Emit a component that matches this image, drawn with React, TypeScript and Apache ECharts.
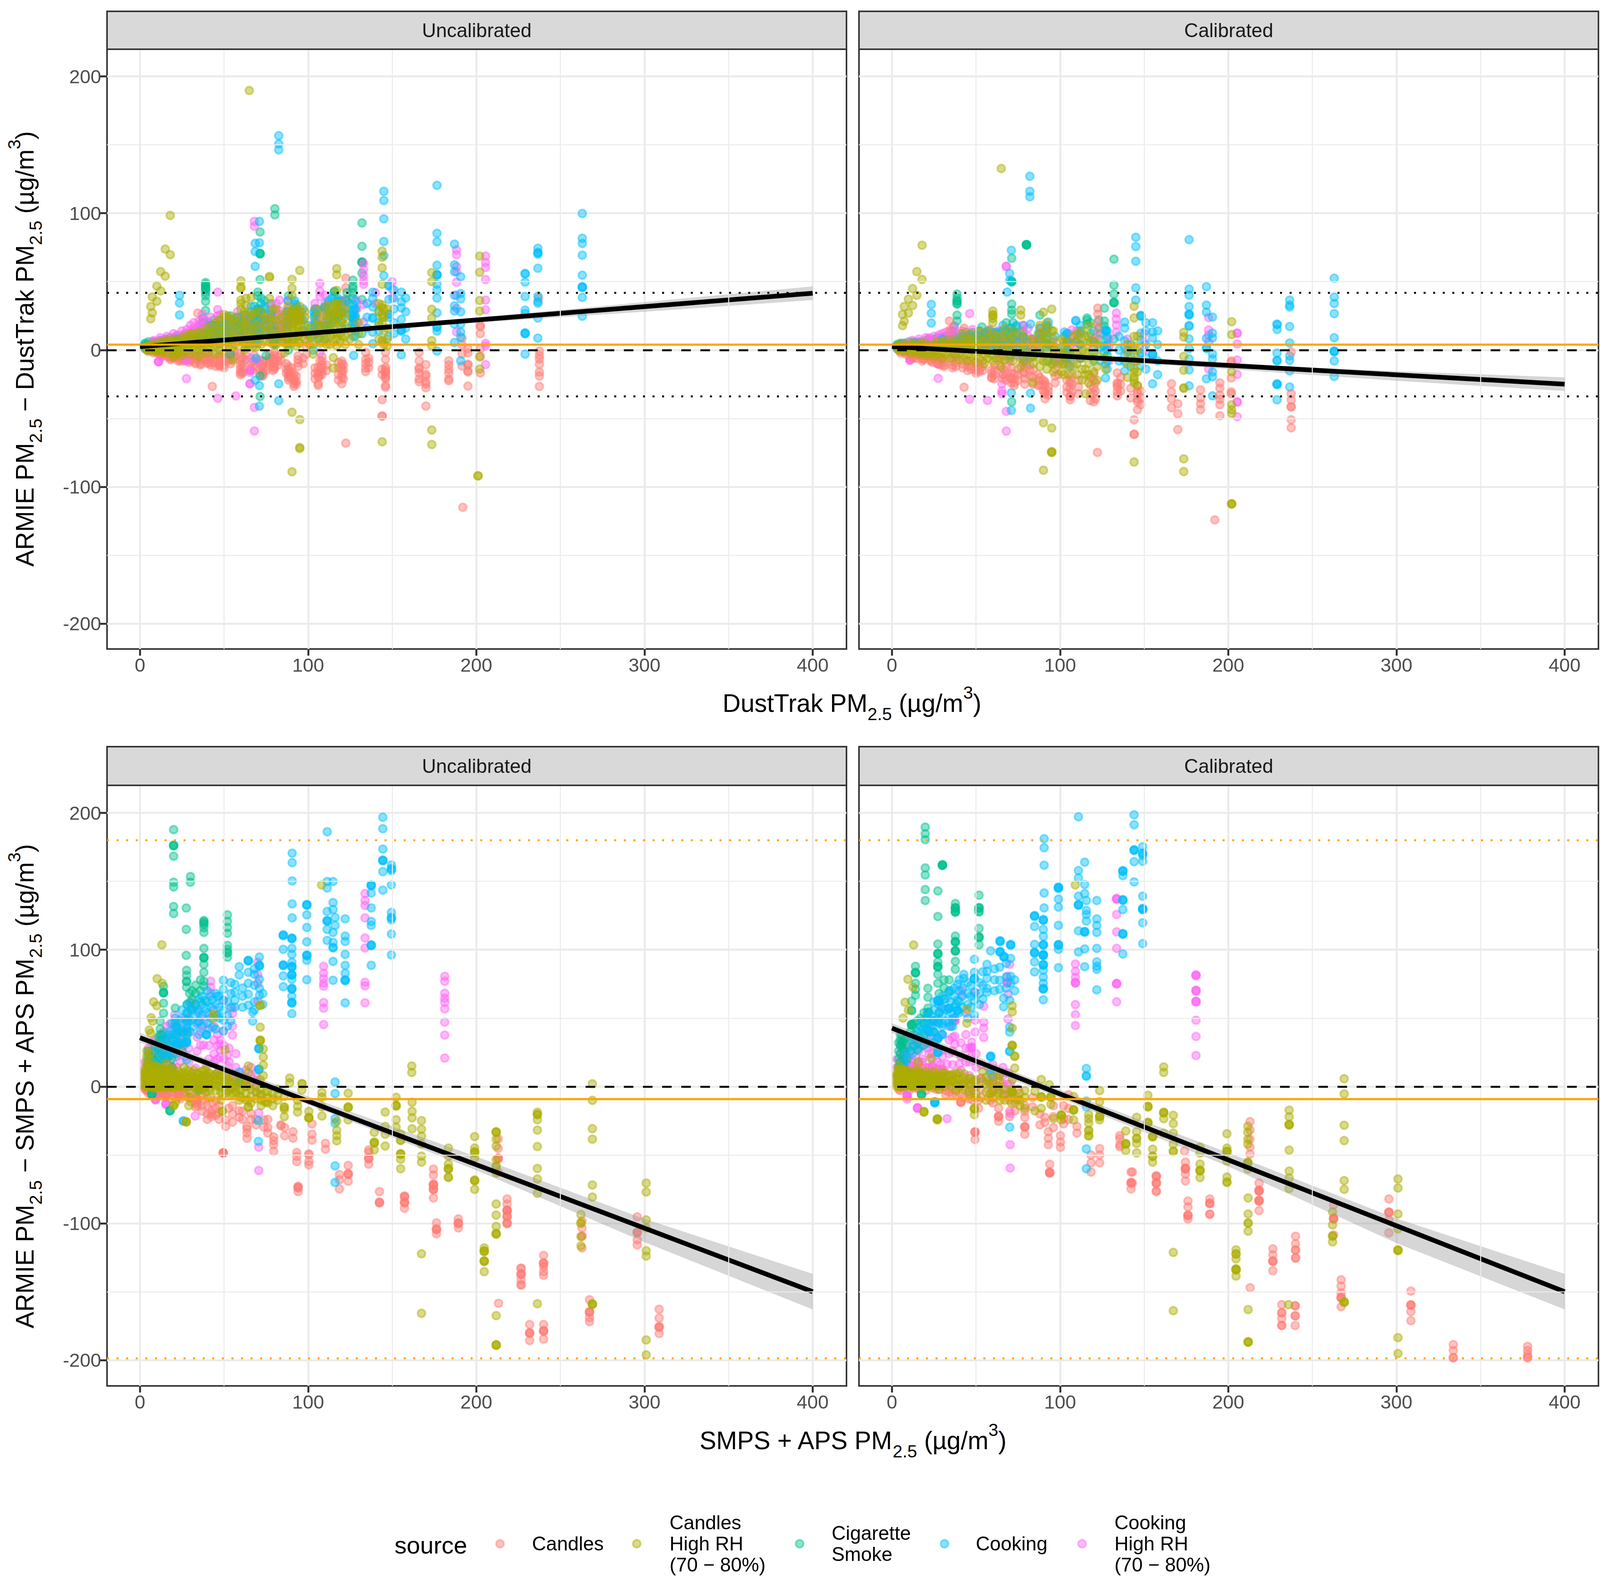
import React, { useEffect, useRef } from "react";
import * as echarts from "echarts";

type Col = number[];

const sourceNames = ["Candles", "Candles\nHigh RH\n(70 − 80%)", "Cigarette\nSmoke", "Cooking", "Cooking\nHigh RH\n(70 − 80%)"];
const sourceColors = ["#FF7D75", "#ABAD00", "#00C08D", "#00BFFF", "#FF66F5"];
const xTickValues = [0, 100, 200, 300, 400];
const yTickValues = [-200, -100, 0, 100, 200];
const xMinorValues = [50, 150, 250, 350];
const yMinorValues = [-150, -50, 50, 150];
const stripNames = ["Uncalibrated", "Calibrated"];

// DustTrak, uncalibrated: [x, y, y, ...]
const dtRawCandles: Col[] = [
  [5,0,-1],[8,-1,0,-2],[11,-2,-1,-3],[14,-3,-1,-4],[17,-2,-4,-5],[20,-3,-5,-6],[22.7,-4,-6,-8],[26,-3,-5,-7,-8],[30,-3,-6,-8],[33,-4,-6,-7,-9,-10],
  [34.3,27],[38,5,20,-3,-7],[40.3,-2,-5,-7,-9,-10],[43,-26.6,18,15,12],[47.3,-3,-5,-8,-10,-11,-12],[52,-2,-5,-8],
  [56,-1,-4,-6],[59.7,-2,-5,-8,-11,-14,-16.4,-18],[63,12,8,-3,-7],[68,-4,-8,-12],[73,-8.1,-11,-13,-16.4,-18,-19],[77,-3,-6,-9],[80,-1.7,-4,-7.5,-10,-12.6,-14],
  [84,-3,-8],[88.3,-12,-14,-16,-18.3,-20,-22],[91.6,-17.7,-20,-22.2,-25,-26.6],[94,-4.3,-7,-9.4,-12],[99,6,2,-3],
  [106,-12.6,-16.4,-18,-20,-24.7,-26],[108.2,-4.9,-8,-10.7,-13,-15.8,-18],[120,-8.1,-10,-12.6,-15,-17.7,-20,-24.7],[122.4,-68.1,52.5,45.5,37.2,36,27.4],
  [134.2,-1.7,-6.8,-10,-13.2,-15.8],[144,-36.4,-48.3,-48.3,6,-14,-18],[146,-1.7,-6.8,-12.6,-14,-15.8,-16,-18.3,-20.9,-20,-26,-27.3],
  [166,-1.7,-7.9,-13,-14,-16.8,-21.2,-23.2],[170,-10.7,-17.7,-19,-23.2,-25,-27.6,-41],[183.6,-7.9,-11,-14.2,-16.8,-21.2,-22.5],
  [191.5,8.7,3.6,-2.8,-11.7],[192,-115],[195,1,-2.1,-10.4,-11,-15.3,-16,-26.4],[202.4,18,17,11.9,1,-4.7,-16.8],[237.5,-0.8,-4,-6.6,-10.4,-16.1,-19,-26.6],[237,38],
  [13,-2,-4,-5],[18,-3,-5,-6,-7],[24,-2,-4,-6,-8],[29,-5,-7,-9],[36,-3,-6,-8,-10,-11],[42,-4,-7,-9,-11],[45,-6,-9,-12],[50,-5,-8,-11,-13],[54,-4,-7,-10],[61,-6,-10,-13,-16,-17],[66,-9,-13,-15],[71,-7,-10,-14,-17],[75,-8,-12,-15],[79,-6,-9,-12,-15],[82,-5,-8,-11],[87,-10,-14,-17],[90,-13,-16,-19,-21],[93,-19,-23,-25],[97,-6,-10],[104,-13,-17,-21],[107,-8,-14,-19],[111,-11,-15],[118,-9,-13,-18,-22],[121,-11,-15,-21],[136,-6,-9,-13]
];
const dtRawOlive: Col[] = [
  [65,189.7],[18,98.4,69.7],[15,73.8,54],[12.3,57.3,43.2],[10,46.7,35.6],[7.3,38.8,27.2],[6.4,31.8,22.8],
  [4,0,1,2,3],[7,0,1,3,4],[10,-1,1,3,5],[13,-2,0,2,4,6],[16,-2,1,3,6,7],[20,-3,-5,0,3,6,8],[25,-4,-1,3,7,9],[30,-3,1,5,10,12],[35,-5,0,4,9,13],
  [40,-2,2,7,12,16],[45,-3,3,8,14,20],[50,-2,4,9,15,24,26],[55,-7.5,2,6,12,19,23],
  [60,50.6,46.1,45,36.5,34,30,22,16,8],[63,37.8,32.7,25,19,10,4],[66,38.5,26,14,6],[69,28,18,10,2],[77,53.8,53,37.8,24,16,6],[81,30,22,12,4],
  [86,26,20,12,5,-2],[90.4,51.6,45.1,39.7,-45.5,-89,28,24,20,16,10,5],[93,30,27,22,16,10,3],[95,58.2,-50.9,-71.3,-72,32,28,24,22,18,12,5],
  [103,-3,4,10],[107,18,14,9,5],[111,32,25,18,10,4],[115,-13.2,-5.6,26,20,12,6],[117,59.5,55,43.6,34,32,28,24,12,8,3],[120,27,20,10],
  [144,72.3,67.8,60.1,48,33,31,26,23.8,20,7.2,-67.1],[147,30,16,8,3],[173.5,56.6,50,29.8,23.4,6.8,3,-58.5,-69.1],[202,68.7,56.8,36.2,28.5,-5,-13.9],[201,-92,-92],
  [5,0,1,2,2,3],[8,0,1,2,3],[11,0,2,3,4],[14,0,1,3,5],[18,0,2,4,6],[22,-2,1,4,7],[27,-1,2,5,8,10],[32,0,3,6,9,12],[37,0,3,6,10,13],[42,1,5,9,13,17],[47,0,4,9,14,18,22],[52,2,6,11,16,21,25],[57,4,9,14,19,24],[62,0,4,12,16,20,28],[67,2,8,14,20,26],[72,4,10,16,22,28],[75,6,12,18,24],[79,4,10,16,22,30],[84,6,10,14,18,24],[88,4,8,14,20,26,32],[91,8,14,20,26,30],[94,6,10,16,22,26],[98,8,12,18,24,28],[101,4,10,16],[105,12,18,24,30],[109,6,12,20,26],[113,4,10,16,24,28,32],[116,14,20,28,34],[119,6,12,18,26,34],[122,4,10,18,24,30],[125,8,14],[130,20,12,4],[142,8,18,28,34],[145,4,14,24,30]
];
const dtRawGreen: Col[] = [
  [3,1,2,3,4,5],[5,0,1,2,4,6],[7,1,2,3,5],[10,1,3,5,6],[13,2,4,6],[16,3,5,7],[20,2,4,6,8],[25,4,6,9],[30,5,8,11],[34,7,10,13],
  [37.5,23.1,20,15.5,12,8],[39,49.3,48,47,46,45,44,42,39.7,35.6,28.9],[45,12,18,10],[50,6,12,18],[53.8,25,18.7,14,8,-3],[60,14,8],[65,20,12,4],
  [70,42.3,39.7,30,29,28,26,24,20,18,10,5],[71.4,86.3,70.7,70.5,70.2,51.5,-34,-19],[75,22,14,-4],[80.2,103.3,98.8,18,5,4],[88.3,39.7,24.4,24,6,0],
  [109.5,31.4,30,18],[115.6,42.9,42.5,39.1,26,22],[126.6,51,46.8,45,41.7,37.8,23.8,23,19.3],[132,92.9,75.8,64.4,64.2,64,56.3,36.9,12],
  [8,2,4,6],[12,3,5,7],[15,3,6,8],[18,4,6,9],[22,5,8,10],[27,6,9,12],[32,7,10,14],[36,8,12,15,18],[41,9,13,17,20],[44,8,14,18,22],[48,10,14,18,22],[52,8,12,16,20,24],[56,10,16,20],[60,10,14,20,24],[64,12,18,24],[68,14,20,26,32],[72,16,22,28,34,38],[74,20,26,32],[78,24,28,34],[83,10,16,22],[87,14,20,28],[92,22,30],[100,12,18],[105,20,26,30],[112,18,26,34],[118,24,30,36],[123,30,36,42],[128,30,25,18,14]
];
const dtRawCooking: Col[] = [
  [82.5,156.7,150.7,146.3,-24.7,-37],[23.5,40,34.4,25.6],[68.5,78,72,61.2,-22],[71,94,78.4,-26,-41],[145,116,109.3,95.9,79.3,69,54.4],
  [148,47.4,46.8,37,26.3,25.8,23.8,10],[127,32.7,28.9,26,21.2,9.8,-4],[138.4,42.3,37.8,31.4,23.8,23,13,4.6],[155.4,42.3,35.3,30.8,22.4,14.8,14.5,13.6,-3.6],
  [103.5,27.6,24.4,17.4,11],[103,0],[110,31.4,8,18],[114,38,20],[117.5,38,35,27],[93,31.4,33],[59,21,20,14],[69,21,20.5,16,12,9,6,-6],[46,15,10,6],[52,16,11],[40,8,12],[30,5,9],[22,4,8],[14,3,5],
  [176.6,120.4,85.3,79.2,62,55.3,55,54.6,48,44,38,27.2,17,16.6,13.8,-0.8],[187,77.4,62.3,57.2,40,32.3,28.5,18.9,5.5],[190.7,53.6,41.3,37.4,27.9,18.9,13.2,9.4,-7.9],
  [229,56,55.6,49.6,39.1,29.1,26.6,12.6,12.2,11.8,-3],[236.6,74.4,71.3,71,70,59.8,39.4,35.5,34.2,23.4,8.7],[263,99.8,81.7,77.9,69.3,54.7,46.4,46,45.6,38.5,24.7],
  [38,8,12],[42,10,14,18],[47,9,13,16],[50,12,16,20],[55,12,18,22],[58,16,20,24],[62,14,20,26],[66,16,22,28,32],[70,12,18,24,30],[74,14,22,30,36],[78,10,18,26],[80,6,14],[88,18,28,36],[92,24,30,34,36],[97,14,22,30],[104,14,20,26,30],[106,8,12,16],[112,14,22,30,36],[120,16,22,28,36],[124,16,26,34],[128,10,16,24,30,36],[135,16,24,34],[142,14,20,28],[151,12,20,30,38,44],[158,8,16,28,38]
];
const dtRawPink: Col[] = [
  [8,4,6,7],[12,4,7,9],[16,5,8,10],[20,6,9,12],[25,7,11,14],[30,10,14,18],[35,14,18,21],[40,16,21],[11,-8.5,-8.5,-8.5],[27.6,-20.9,-7.5,-7.5],
  [46.2,42.3,29.5,25,-35.3],[57,-33.6,15,8],[62,22,16,10],[65.4,-16.4,-24.7,-24.7,-15],[68,94,90.4,-42,-59.2,5],[83,36.5,28.9,26,18,12],[85,24,18,14,8],[92,28,22],
  [107,48.7,42.9,39.1,23.8,-2],[133,63.3,58.9,54.4,50.6,48,33.3,20.6],[188.2,73.2,69.7,61,57.2,49.6,40,30.4,13.2],[205.5,68.7,64,60.4,51.5,36.5,29.4,4.9,3,-10.7],
  [22,5,8,11],[28,8,12,15],[32,12,16,20],[37,14,18,22,26],[42,14,18,24],[48,12,16,20,26],[54,10,16,22],[58,12,18,24,28],[63,10,14,20,26],[66,12,18,24,-6],[70,10,16,20,-8],[74,12,18,24],[78,8,14,20,26,32],[81,14,20,28,34],[88,18,24,30,36],[96,28,22,14],[104,14,22,30,34],[110,20,28,34,40],[120,36,30],[129,20,30,36],[140,42,34],[150,50,44,38]
];

// DustTrak, calibrated
const dtCalCandles: Col[] = [
  [5,0,-1,-2],[8,-1,-2,-3],[11,-3,-2,-5],[15,-4,-2,-6],[19,-3,-6,-7],[23,-5,-7,-8],[27,-5,-8,-10],[31,-6,-9,-11,-12],[34.2,21.2,14.6],[38,-5,-9,-12],[42.9,-27.2,16],
  [47,-8,-12,-14],[52,-10,-14,-16],[59.3,-14.5,-17,-20.4,-20],[64,-6,-12],[68,-12,-18,-22],[72.7,-17.5,-21,-24,-26],[78,-10,-16],[84,-14,-20,-25],[88,-25.5,-20],[91,-23.3,-25,-30.6,-32,-35.7],
  [99,-4,-10,-18],[106,-21.8,-24,-27.7,-33.5,-34,-36.4],[120,-17.5,-22,-27.7,-32,-37.9],[122.2,-74.9],[122.4,30.6,26.3,20.4,16,10.2],[134,-16.7,-24,-25,-27,-30.6,-33.5],
  [144,-61.6,-61.6,-51],[146,-43.7,-37.9,-36,-32,-30,-26.2],[166.2,-24.7,-30.6,-35.7,-42.2],[170,-39.3,-46.6,-58.2],[183.5,-29.1,-35,-39.3,-43.7],
  [192,-124.2],[195,-24,-28,-33,-36,-40,-48],[201.8,-8,-9,-20.4,-30.6,-32],[237.4,-1.4,-32,-36.4,-41.5,-41.5,-51,-56.9],
  [13,-3,-5,-6],[18,-4,-6,-8],[24,-4,-6,-9],[29,-6,-8,-11],[36,-5,-8,-11,-13],[42,-7,-10,-13],[45,-8,-12,-15],[50,-9,-12,-15,-17],[54,-8,-12,-15],[61,-11,-15,-18,-21],[66,-14,-18,-21],[71,-13,-17,-21,-24],[75,-14,-18,-22],[79,-13,-17,-21,-25],[82,-11,-15,-19],[87,-18,-22,-26],[90,-22,-26,-30],[93,-27,-30,-33],[97,-14,-19,-24],[104,-22,-27,-31],[107,-18,-25,-31],[111,-22,-27,-32],[118,-20,-26,-32,-37],[121,-24,-30,-36],[136,-20,-25,-30],[148,-30,-35,-40],[142,-28,-35]
];
const dtCalOlive: Col[] = [
  [65,132.7],[17.9,76.6,51.6],[14.8,57.3,40],[12.3,44.9,32.5],[9.8,37.2,27],[7.3,31.8,21],[6.3,26,17.8],
  [4,0,1,3,4],[8,-1,1,2,4],[12,-2,0,3,5],[16,-3,-1,2,4],[20,-4,-1,2,5],[25,-5,-2,1,4],[30,-6,-2,2,6],[35,-6,-2,2,5],[40,-7,-3,1,5],[45,-8,-3,2,6,8],[50,-9,-4,1,6],[55,-10,-4,2,7],
  [60,28.5,26,25,23,20,12,6,-4,-8],[65,10,2,-6,-12],[70,8,0,-6],[76.6,29.2,25.5,12,4,-6,-12],[83.7,-23.7,8,-4],[90.1,27.7,12,6,-8,-53.2,-87.9],[95,29.9,14,4,-10,-74.3,-74.6,-75,-57],
  [102,6,-3,-10,-18],[108,10,-2,-12],[115,10,-2,-14,-32,-18],[120,6,-6,-16],[144,32,23.4,10,3,-3,-8,-14,-16,-20,-22,-24,-81.9],
  [173.5,12.9,9.5,-4.6,-14.8,-27.7,-28,-79.6,-88.9],[202,20.7,11.3,-16,-40,-43.7,-46.3,-112.5,-112.5,-112.5],
  [5,0,1,2,3],[9,0,1,2,3],[13,-1,1,2,4],[18,-2,0,3,5],[22,-3,0,3],[27,-3,0,3,6],[32,-3,1,4,7],[37,-3,1,5,8],[42,-4,0,4,8,12],[47,-5,0,4,8,12],[52,-6,-1,4,8,13],[57,-6,-2,4,9,14],[62,-6,-1,5,10],[67,-7,-1,5,11,16],[72,-8,-2,4,10,14],[79,-8,-2,3,9],[84,-10,-5,0,6],[88,-12,-6,0,6,12,18],[92,-14,-8,-2,4,10,16,20],[96,-16,-10,-4,2,8,14],[101,-16,-10,-4,2,8],[105,-18,-12,-6,0,6],[110,-18,-10,-2,6,12],[113,-22,-14,-6,0,8,14],[117,-24,-18,-10,-2,4,10,18],[122,-22,-12,-4,4],[127,-14,-6],[140,-20,-10,-2,4],[146,-26,-16,-8,0,10]
];
const dtCalGreen: Col[] = [
  [3,1,2,3,4],[5,1,2,4,5],[7,2,3,5],[10,2,4,6],[13,2,4,6],[16,3,5,6],[20,3,5,7],[25,3,5,8],[30,4,7,9],[34,3,6,10],[37,17.5,10,6],
  [38.7,40.9,38,36,35.6,34,33.5,25.5,21.2],[45,6,10],[53.5,16.8,10.2,4],[62,12,6],[70.8,16,8,-4],[71.2,67.1,50.3,50,49.7,33.6,29.2,26.3,-37.9],[80,77,77,77,76.8,76.8],
  [88,25.5,12],[116,23.4,19,22],[126.3,30.6,21.2,17.5,3,-1.4],[132,66.4,47.4,40.9,35,34.7,34.4,8],
  [8,2,4],[12,2,5],[15,3,5],[18,3,6],[22,3,6,8],[27,3,6,9],[32,4,7,10],[36,4,8,11,14],[41,5,8,12],[44,4,9,13],[48,5,8,13],[52,3,7,11,14],[56,4,9,13],[60,3,8,13],[64,2,7,13],[68,1,8,14,20],[72,2,8,14,20],[74,5,11,17],[78,8,14,18],[83,-5,2,8],[87,-2,6,12],[92,5,12],[100,-8,-2],[105,-2,6,12],[112,-6,4,14],[118,6,12,20],[123,8,16,22],[128,10,4,-4]
];
const dtCalCooking: Col[] = [
  [23.4,33.3,26.9,19.7],[68.5,42.3,13],[70,56,51],[71,72.9,-31.3,-44.1],[82.4,19,-31.6,-42.5],[82,116,127,112],[93,20.4,16.8,4,-8],[102.6,13.2,10,2,-6],[109.3,21.6,21.2,6],
  [145,82.4,75.6,64.9,45.5,36.5],[148,25.3,25,24.7,12.4,7.3,-2,-2.4,-11.6],[155,20,13.2,8.8,-2.9,-3.2,-3.5,-24.7],[138.4,20.4,16,6.6,1.5,-4.3,-8.7,-15.3],[127,14.6,14.2,13.8,-10.2,-20.4],
  [176.7,80.7,44.5,40.1,31.8,26.3,26,25.6,17.8,17.5,8.1,1,-6.5,-14.5,-26.2],[187,46.3,32.8,27.7,8.5,1.5,1.2,-21],[190.6,24.1,12.4,8.8,-2.9,-6.5,-16,-19.6,-33.5],
  [229,19,18.5,15,-2.2,-7.5,-8,-24.7,-25,-25.3,-36.4],[236.5,36.5,32.8,31.4,17.2,5.1,-4.3,-7.5,-15.3,-27],[263,52.5,38.7,34,26.6,9,-0.7,-1,-1.4,-8,-19.4],
  [30,5,8],[46,7,11],[55,8,12],[62,9,4],[14,3,5],
  [38,2,6],[42,3,7,10],[47,2,6,9],[50,4,8,11],[55,2,8,12],[58,4,9,14],[62,1,7,13],[66,2,8,14,18],[70,-4,4,10,16],[74,-2,6,12,18],[78,-6,2,10],[80,-10,-2,6],[88,-2,8,16],[92,2,8,14,18],[97,-8,2,10],[104,-6,0,6,12],[106,-12,-6,-2],[112,-6,4,12,18],[120,-8,-2,6,14],[124,-8,2,12],[128,-14,-8,0,8,14],[135,-8,0,10],[142,-12,-4,4],[151,-14,-6,4,14,20],[158,-18,-8,4,14]
];
const dtCalPink: Col[] = [
  [8,3,5],[12,4,7],[16,5,8],[20,6,9],[25,7,10],[30,8,12],[35,10,14],[10.7,-7.3,-7.3,-7.3],[27.5,-20.7,-10.2,-10.2],[46.2,26.6,-36,7],[56.8,-36.9,8],[63,7,1],[65.4,-24.8,-32,-30],
  [68,61.3,61,-44.9,-59.3],[84,7.3,7,2],[107,14.6,10,5],[133.4,27,22.6,18.3,13.2],[188.3,23.7,14.6,11,5.9,-14],[205.3,12.4,12.2,4.4,-7.3,-17.9,-37.9,-38.1,-48.8],
  [22,4,7,9],[28,5,9,11],[32,6,10,13],[37,6,10,14,17],[42,6,10,14],[48,2,7,11,15],[54,0,6,12],[58,1,6,12,15],[63,-2,3,9,14],[66,-4,2,8,-18],[70,-8,0,6,-20],[74,-4,3,9],[78,-8,-2,6,12,18],[81,-4,3,10,16],[88,-2,4,10,16],[96,6,0,-8],[104,-10,-2,6,12],[110,-6,2,8,14],[120,8,2],[129,-8,2,8],[140,8,0],[150,12,6,0]
];

// SMPS + APS, uncalibrated
const smRawCandles: Col[] = [
  [4,-1,-3],[7,-2,-4],[10,-1,-3,-5],[13.3,-2.5,-5,-6],[17,-3,-5],[22.7,-5.4,-5,-6,-8],[27,-4,-7],[34,-10.1,-10,-9,-12,-14],[42.5,-22,-17.8,-12,-20],[49.5,-48.5,-48.5,-48.5,-48.5],[51,-24.4,-29.2],[52.7,-15.9],
  [59,-17.8,-22.5],[63.6,-29.2,-31,-34,-37.8],[66,-19.7,-24],[73.7,-24.4,-29.7],[79.5,-36.8,-39.6,-42.5,-47.3],[83.8,-28.7,-28],[91,-33,-37.8],[93.2,-48.2,-51.1,-54.9],[94,-73,-73.4,-73.8,-74.2,-76.8],
  [100.4,-49.2,-50,-54.9,-57.3],[102.3,-27.3,-34.9,-39.2],[110.3,-41.6,-45.8],[118.6,-64.4,-68.2,-74.9],[123.8,-57.7,-63.5,-64,-64.5,-69.2],[136,-46.3,-48,-52,-52.5,-53,-56.8],[142.4,-76.8,-84.4,-84.8,-85.2],
  [157.3,-80,-80.4,-80.8,-84.4,-84.8,-85.2,-89],[174.5,-60.4,-64.7,-71.3,-71.6,-72,-72.4,-74.9,-75.2,-75.5,-81.5],[176.3,-99.7,-104.1,-104.4,-104.7,-107.7],[189.3,-96.8,-99.7,-100,-100.3,-103.4],
  [213,-38.2,-45.3,-52.3,-52.6,-52.9,-62.5],[213.2,-158.5],[218.3,-82.2,-85.9,-90.2,-90.5,-90.8,-91,-94.6,-95,-95.4,-99.7,-100,-100.3],[226.6,-132.8,-133,-136.9,-137.2,-137.5,-141.3,-144.9,-145.2],
  [231.7,-174,-179.9,-180.2,-180.5,-185.7],[240,-123.5,-128.9,-129.2,-129.5,-131.8,-135.4,-138,-174,-178.4,-178.7,-179,-184.7],[262.8,-98.3,-103.4,-109.2,-109.5,-118],[267.3,-155.9,-164.6,-164.9,-165.2,-169,-171.9],
  [295.7,-95.3,-106.3,-106.6,-106.9,-112.1,-115.8],[308.7,-162.9,-169.3,-175.5,-175.8,-176.1,-180.6],
  [3,-1,-2],[5,-2,-3,-5],[8,-2,-4,-6],[11,-3,-5,-7],[15,-3,-6,-8],[19,-4,-6,-9],[24,-4,-7,-9],[30,-5,-8,-11],[33,-8,-12,-15],[37,-6,-10,-14,-18],[40,-8,-14,-20,-24],[45,-10,-16,-21],[47,-14,-19,-24],[55,-14,-20,-26],[61,-18,-24],[69,-24,-28],[76,-24,-30,-34],[86,-30,-36]
];
const smRawOlive: Col[] = [
  [13,103.6],[10.2,78.8],[13.2,75.5],[8.1,61.9],[10,59],[6.6,50.3],[7.5,47.8],[5.5,41.2],[6.4,39],
  [4,0,2,4,6,8,10,12,15,18,22,26],[6,0,1,3,5,7,9,11,13,16,19,24],[8,-1,1,3,5,7,9,11,14],[10,0,2,4,6,8,10,12,15],[12,-1,1,3,5,7,9,12],[14,0,2,4,6,8,11,14],[16,-1,1,3,5,8,10,13,17],[18,0,2,4,6,9,12],[20,-14,-14,-1,1,3,6,9,13],
  [23,0,2,5,8,11],[26,-1,1,4,7,10,14],[27.5,-25.8,-25.8,-25.8],[29,-14,-8,-3,2,6,11],[32,0,3,7,12],[35,-3,0,5,9],[38,-2,1,4,8,12],[41,-1,2,6,10],[43.7,52.9,50,8,3],[47,0,4,8,12],[49,-18.2,-18,-6,2,7],
  [52,-3,2,5,9],[55,-1,-5,2,7],[59,-7,-10,-2,3],[64.4,15,9.9,5,0,-10.1,-14.9,-15.2],[71.5,59.5,59.2,43.4,34,33.7,33.4,5,-2,-6],[73.3,27.4,21.6,15.7,8],[74.5,-11,-11.4,-4],[89,6.2,2.6],[96.3,2.2,-2.5],[96.4,1.9],[50.5,26.7],
  [85.8,-7.3,-14.9,-15.2,-16.8,-22],[93.7,-10.1,-14.4,-18.7],[100.4,-18.2,-22.5,-22.8,-23.1],[108,147.4],[108.2,-4.4,-7.8,-14.9,-21.6],[117,-25.4,-32,-35.9,-39.7],[123.8,-4.9,-14.9,-15.2,-15.5,-24.4],[139.3,-33.5,-40.6,-41,-41.4,-46.3],[145.8,-18.7,-29.2,-34.9,-43.5],
  [152.3,-7.9,-13.7,-14,-14.3,-24.3,-29.7],[155,-34.8,-39.2,-39.5,-49.1,-49.4,-49.7,-53.1,-60.1],[161.6,15,10.3],[161.8,-11.5,-18.1,-22.9,-30.9],[167.4,-24.9,-31.2,-36.3,-42.1,-50.9,-55.3,-122.3,-165.8],
  [183.4,-45,-50.9,-56.7,-59.9,-60.2,-60.5,-66.2,-66.5],[199,-36.6,-45,-47.7,-48,-48.3,-52.3,-68.4,-68.7,-69,-75.2],[204.7,-118,-120.1,-120.4,-120.7,-127.4,-127.7,-128,-135.4],
  [211.8,-33,-33.3,-33.6,-38.5,-43.6,-53.5,-58.2,-58.5,-63.3,-85.9,-94,-102.3,-107.4,-107.7,-108,-167.5,-188.7,-189,-189.3],[236.3,-18.8,-20.3,-20.6,-24.3,-31.9,-43.9,-59.9,-67.6,-78.1,-158.8],
  [262.2,-93.6,-99.7,-100,-109.9,-116.5],[269,2,-10.1,-30.8,-38.5,-72,-80.8,-158.8,-159.1,-159.4],[301,-70.6,-77.1,-97.5,-103.4,-120.1,-124,-185.3,-196.2],
  [3,0,2,4,6,8,10,12],[5,0,2,4,6,8,10,12,14],[7,0,2,4,6,8,10,12,14],[9,0,2,4,6,8,10,12,14],[11,0,2,4,6,8,10,12],[13,1,3,5,7,9,11,13],[15,0,2,4,6,8,10,12],[17,1,3,5,7,9,11],[19,0,2,4,6,8,10],[21,1,3,5,7,9,-12],[24,0,2,4,6,9],[28,0,3,6,9,12],[31,1,4,7,10],[34,-4,0,3,6,10],[37,-2,2,5,8,11],[39,-4,0,4,8,12],[42,-2,2,5,9,-8],[45,-3,1,5,9],[48,-4,0,4,8,-10],[51,-5,-1,3,7],[54,-6,-2,3],[57,-4,0,4],[60,-8,-3,2],[63,-10,-5,0,4],[66,-12,-7,-2],[69,-9,-4,0],[72,-14,-10,-6],[76,-12,-8,-4],[79,-14,-9,-5],[82,-10,-6,-2]
];
const smRawGreen: Col[] = [
  [20,187.8,176.5,176.2,175.9,168.4,149.4,145.9,131.6,126.5,34],[30,153.5,149.4],[27.5,130.5,114.9,95.9],[38,121.4,120.5,119.5,118.5,116,112.7,101,94.5,94.2,93.9,89.3,83.5,76.9,73.3],
  [52,125.5,120.7,116.3,112,103.2,100.3,98,97.7,94.5],[27.7,85,81.3,77,76.7,72.6,34],[29.5,68.2,61.6],[14,73.3,68.9,68.6,68.3,60.9,53.6],[12,47.8,42,38,34],[21,57.3,47],[38.6,63.1],[6.4,22.3,16.4],[15,20.1],[7,-5.4,-5.7,-6],[17.8,-17.3,-17.6,-17.9],
  [5,10,14,18,22,26],[7,8,12,16,20],[9,12,18,24,30],[11,16,22,28,36],[13,20,26,32,38],[15,12,26,34],[17,22,30,38],[19,8,14,20,28],[22,24,30,38,44],[25,26,32,40],[28,40,48,54,60],[31,56,64,70],[33,60,68,74],[36,62,70,78]
];
const smRawCooking: Col[] = [
  [144.4,196.9,188.5,173.6,165.6,165.3,165,157.1,143.6],[149.5,162,159.3,159,157.9,147.4,127.3,123.6,123.3,121.9,111.5,96.2],[111.3,186.3,149.9,145.2,128,121.4,121.1,120.8,114.9,106.8],[114.8,149.9,134.5,129.4,112.7,105.4,101.7,101.4,91.5,77.7],[116,123.6,117.8,3.3,-5.1,-23.5,-26.8,-58,-70.1],
  [122,122.6,110,106.1,96.6,88.6,82.8,78,77.7,77.4,61.2],[90.5,170.6,163.7,150.3,133.5,123.3],[99.2,133.1,132.8,132.5,125.5,116.3,105.8,96.2,95.9,95.6,92.3,78.1],[137.5,147.4,147.1,146.8,141.5,130.6,120.7,117.8,103.6,103.3,103,88.6],
  [85.2,110.9,110.6,110.3,100.3,89,88.7,88.4,80.9,73],[90.3,108.6,108.3,108,101,96.6,90.8,87.9,87.6,87.3,82,81.7,81.4,78.4,71.8,71.5,71.2,66,61.6,61.3,61,53.2],[59,87.6,81.6,10.6,3.3,3,2.7],[64.4,92.3,92,91.7,83.5,75.5,67.5,59.5],[71,94.7,88.6,88.3,88,78.4,71.8,66.7],[67,54.4,47.8],[56.4,74.8,68.9,63.1,58],
  [49.6,77.7,71.1,63.1,55.8,48.5,40.5],[43,63.1,43.4],[39.5,57.3,38.3,38,37.7],[34.8,54.4,47.1,-1.8,-2.1,-2.4],[27.7,48.5,42.7,32.5,32.2,31.9,19.4],[70.7,28.1,27.8,27.5,12.8,12.5,12.2],[70.4,-24.9,-40.1],[25.8,-25.1,-25.4],[22,42,32],[20,30,24],[16,28,22],[46,66,52],
  [6,15,20],[10,18,26],[14,24,30,36],[17,26,34,40],[19,30,38,46],[21,28,36,44,50],[23,32,40,48],[25,34,42,50,56],[28,38,46,54,60],[30,40,48,56],[32,44,50,58],[35,38,48,56,64],[37,44,52,60,66],[40,46,54,62,70],[42,50,58,66],[45,42,52,60,68],[47,50,58,66],[52,44,52,62],[54,48,58,68,76],[61,58,66,72],[68,56,62,74,82,86],[73,60,68]
];
const smRawPink: Col[] = [
  [133.8,141.1,136,132.4,123.3,108.6,101.3,76.2,73.6,61.2],[109.2,87.9,82.8,79.1,75.5,73.3,61.4,57.3,45.3],[181.2,80.6,77,68.2,64.6,61.6,56.8,47.1,37.6,20.8],[70,90.8,82,75.5,62.4,3.3],[42,77,72.6,68.2],[49.6,63.1,40.5],
  [55,57.3,53.6,44.2,37.6,9.2],[30.7,61.6,57.3],[20.6,52.2,44.2,38.3],[37.8,45.6,30.3],[47.8,33.9,31,26.6,21.5],[52,23,15],[39.6,15,8.4],[33,13.5,6.2],[13.5,33.9,25.2],[5.8,16.4,9.2],[19,14.5,14.2,13.9],[17,4.8,4.5,4.2],[9.2,-9.2,-9.5,-9.8],[15.4,-12.5,-12.8,-13.1],[32.8,-21.6],[70.6,-19.2,-44.4,-61.4],[26,40,30],
  [3,6,10,14,18],[5,12,18,24,28],[7,14,20,26,32],[9,10,18,26,34],[11,16,24,32],[14,14,22,30,40],[16,20,28,36,44],[18,18,26,36,46],[22,14,22,32,42],[24,18,28,38,48],[27,22,32,42,50],[29,18,28,40,50],[34,26,36,46,56],[36,30,40,50],[41,20,30,42,52],[44,18,24,34,44,56],[46,10,20,30,38],[50,20,30],[53,8,18,28],[57,4,14,24],[60,6,10],[63,0,6,12],[66,2,8,14],[69,-4,4,10]
];

// SMPS + APS, calibrated
const smCalCandles: Col[] = [
  [4,14,8,3,-2],[7,15,10,4,-1],[10,16,8,2,-3],[13,14,6,-1],[16,16,10,3,-2],[20,14,8,2,-3],[24,15,9,3,-1],[28,12,6,-2],[32,10,4,-3,-6],[36,4,-2,-6],[41,-5.4,-11.1,-11.4,-11.7,2],[46,2,-4,-9],[49.4,-33,-33.3,-33.6,-38.7],[51.5,-10.1,-15.9],[58.7,-5.4,-10.1,1],
  [63.4,-15.9,-21.6,-21.9,-22.2,-25.4],[73.2,-17.8,-12],[79,-22.5,-29.2,-29.5,-29.8,-34.9],[83.6,-14.9,-8],[90.9,-22.5,-26.3],[93,-33,-37.8,-42.5],[93.8,-56.8,-62.5,-62.8,-63.1,-63.4],[100.2,-35.9,-40.6,-44.4],[102.1,-14,-23.5,-27.3],[110,-29.2,-34],[118.4,-50.1,-55.8,-62.5],[123.5,-45.4,-50.1,-55.8],
  [135.5,-35.9,-42.5,-44,-38],[142.2,-62.5,-70.1,-70.4,-70.7,-74.9],[143,-62.5,-70.6],[157.2,-65.5,-65.8,-70.6,-70.9,-76.4,-65.4,-70.1,-76.8],[174,-47.2],[174.5,-55.3,-59.6,-59.9,-60.2,-60.5,-64,-69],[176,-83.7,-88,-93.9,-94.2,-94.5,-96.8],[189,-82.2,-85.1,-85.4,-85.7,-93.2,-93.5],
  [212.9,-25.7,-31.9,-38.5,-44.3,-49.4],[213,-147.1],[218.3,-70.6,-75.7,-76,-76.3,-76.6,-83,-83.3,-83.6,-83.9,-90.7],[226.5,-118.7,-123,-127.4,-127.7,-128,-134.7],[240,-109.5,-115,-119.4,-119.7,-125.2,-125.5],
  [231.8,-159.5,-165.3,-165.6,-169.7,-174.5,-174.8],[239.8,-160.2,-160.5,-167.5,-167.8,-174.8],[262.6,-86.6,-96.1,-96.4,-96.7,-97,-108.5],[267.1,-141.3,-146,-150.8,-154.1,-154.4,-154.7,-161],[295.5,-82.2,-91.7,-92,-92.3,-97.5,-107],[308.6,-149.6,-159.5,-159.8,-160.1,-164.6,-171.2],[333.8,-188.7,-193,-198.1,-198.4],[378,-190,-193,-196,-198,-198.3],
  [5,12,6,0,-3],[9,13,7,1],[12,15,9,3],[15,14,8,-1],[18,13,7,2],[22,14,8,1],[26,13,6,-2],[30,13,7,0],[34,8,2,-4],[38,8,1,-6],[43,7,0,-8],[48,4,-3,-10],[53,6,-2,-8],[60,4,-4,-12],[66,2,-6],[70,-4,-10,-18,-22],[75,-2,-8],[79,-14,-18],[88,-20,-28],[96,-14,-22,-30],[105,-6,-16,-24]
];
const smCalOlive: Col[] = [
  [12.9,103.5],[9.5,78.4],[12.5,72.6],[7.8,61.6],[9.8,55.8],[6.6,50],[4,0,2,4,6,8,10,12,15],[6,1,3,5,7,9,11,13],[8,0,2,4,6,8,10,12],[10,1,3,5,7,9,11],[12,0,2,4,6,8,10],[14,2,4,6,9,12],[15.5,17.9,10,5],[17,1,3,6,9],
  [19,-18.2,-18.5,-18.8,2,7],[21,0,4,8],[23,20.8,6,2],[25,3,7,11],[27,-23.5,-23.8,-24.1,-24.4,5,1],[30,2,6,10],[33,3,8],[36,4,9],[40,0,5,10],[43,9.2,3],[44.5,56.5,46.3],[47,1,6],[49,-15.9,-16.2,-16.5,-20.6,4],[54,10.6,4],[58,2,-5],[64,8.4,8.1,3.3,-4],[64.4,-10.1],
  [71.5,59,54.6,42.7,30.3,30,29.7,-3.5,-3.8,-4.1,-4.4,5],[73,22.3,22,13.5],[74.3,-9.7],[85,-3.5,-17.8],[88.8,5.1,-7.3,-7.6,-7.9,-15.9],[93.5,1.3],[94.5,-7.3,-7.6,-7.9,-13],[96,-23.5],[100.7,-20.6,-20.9,-21.2,-24.4],[108,-7.3,-16.8,-17.1,-17.4,-24.4],[109,147.4],[117,-20.6,-23.5,-26.8,-32,-32.3,-35.9,-36.2],[123.5,-3,-11.1,-16.8,-21.6,-21.9,-22.2,-24.4],
  [139,-32.5,-41.6,-41.9,-42.2,-46.8],[145.5,-22.5,-33,-37.8,-38.1,-41.6,-48.5],[152.2,-6.4,-14.4,-14.7,-15,-26.1,-26.4,-26.7],[155,-36.3,-36.6,-36.9,-45.8,-50.9,-51.2,-55.3],[161.6,14.3,10.3,-18.8,-19.1,-19.4,-23.5,-34.1],[167.3,-21,-27.1,-34.1,-42.1,-47.2,-47.5,-121.3,-163.9],
  [183.2,-44.3,-48.7,-56.7,-61.1,-61.4,-61.7,-66.6],[199.2,-34.5,-45,-47.2,-47.5,-47.8,-54.5,-66.2,-69.8,-70.1],[204.6,-119.4,-122.3,-122.6,-126,-133.3,-133.6,-133.9,-134.2,-138.6],[211.6,-29,-33.4,-38.5,-42.1,-55.3,-55.6,-55.9,-60.4],[211.8,-81.5,-93.2,-99.7,-100,-105.8,-163.1,-186.5,-186.8,-187.1],
  [236.2,-17.3,-22.2,-27.6,-27.9,-28.2,-46.5,-61.8,-66.9,-74.6],[235.8,-159.5],[268.9,5.7,-5.4,-28.3,-39.5,-68.8,-75.2,-157.3,-157.6,-157.9],[262,-91.7,-101.2,-109.2,-109.5,-113.6],[300.9,-67.6,-74.2,-93.2,-104.1,-119.4,-119.7,-120,-183.6,-195.2],
  [3,0,2,4,6,8,10],[5,0,2,4,6,8,10,12],[7,1,3,5,7,9,11],[9,2,4,6,8,10],[11,0,2,4,6,8,10],[13,1,3,5,7,9],[16,0,2,4,6,8,11],[18,0,3,6,9],[20,1,3,5,8,11],[22,0,3,6,9],[24,1,4,7],[26,0,3,6,9],[28,-2,2,5,8],[31,0,3,7,10],[35,0,4,8],[38,-3,2,6,10],[42,-2,2,6],[46,-3,2,6,-6],[50,-5,0,5,-8],[56,-4,2,7,-10],[60,-8,-3,2,7],[63,-5,0],[67,-10,-6,-2],[71,-12,-8,-2],[76,-14,-10,-5],[79,-16,-8,-3]
];
const smCalGreen: Col[] = [
  [19.8,189.7,184.8,180.5,159.8,154.7,144,136],[30,162.2,162,161.8,161.6],[27.3,143,124.3,104.2,97.4,97.1,96.8,91,87.9,87.6,87.3,82,75.5,47],[37.7,133.8,130.9,130.6,130.3,128,127.7,127.4,110,106.1,105.8,105.5,99.5,99.2,98.9,91.5,85.7],[38,60.2],
  [51.8,139.9,130.9,130.6,130.3,128,127.7,115.6,109.5,109.2,108.9,103.6],[14,87.9,83.5,83.2,82.9,75.5,71.1,66.7],[21.4,71.8,65.3,57.3,54.4],[20.8,50],[11.7,62.4,55.8,55.5,45.6,45.3,45,44.7],[6,36.9,32.5,32.2,31.9,28],[15,26.7],[7,9.9,9.6,9.3,9,8.7],[17.6,-5.4,-5.7,-6],
  [4,14,20,26,32],[5,18,24,30,34,38],[7,14,20,26,34],[9,20,28,36],[11,26,34,40],[13,30,38,46],[15,32,40,48],[17,36,44,50],[19,30,38,46,54],[22,40,46,54],[25,32,40,48],[28,54,62,68],[31,64,72,78],[34,70,78]
];
const smCalCooking: Col[] = [
  [110.9,197.2,157.9,152.5,139.2,133.1,132.8,132.5,113.8,98.4],[144,198.7,191.4,173.2,172.9,172.6,164.4,149.6],[149.1,175.4,170.7,170.4,168.8,164.7,139.2,130.2,129.9,129.6,129.3,119.7,104.5],[90.5,181.2,174.6,161.8,141.5,130.6],[99,145.8,145.5,145.2,144.9,137,131.2,117.8,103.9,103.6,103.3,100.3,86.9],
  [114.6,164,147.7,141.1,113.4,113.1,112.8,100.6,87.6],[115.6,136,128.7,125.8,121,13.2,8,7.5,-10.6,-14.9,-45.6,-60.1],[121.8,136,122.6,117.8,112.7,101,91.2,87.9,85.7,70.7],[137.3,157.9,157.6,157.3,154.2,136.7,136.4,136.1,129.4,111.9,111.6,111.3,96.9],
  [84.8,125,124.7,124.4,117,103.9,98.1,97.8,97.5,91.1,83.8],[90,122.1,121.8,121.5,114.9,109.8,103.9,103.6,103.3,96.6,96.3,96,95.7,89.3,89,88.7,85,79.9,75.5,71.8,71.5,71.2,63.4],[58.7,99.2,22.3,22,21.7,11.3,8.9],[64.3,106.6,106.3,106,98.8,98.5,98.2],[66.6,95.2,94.9,94.6],[70.6,103.9,103.6,103.3,93.7,80.6,75.5],
  [56.5,89.3,84.2,79.1,71.8,68.9],[64,87.2,77.7,71.1],[66.4,64.6,58.3],[70,63.1,43.4,39.8,25.9,25.6,-29.7],[49,93,83.5,79.1,78.8,78.5,68.9,63.1,52.2],[42.7,82,79.1],[39,74.8,63.1,55.8,55.5,55.2],[33.8,68.9,57.3,57,56.7,47],[27.3,63.1,62.8,62.5,50,35.4,35.1,34.8,25.2,24.9,24.6],[25.5,-11.1,-11.4,-11.7,-12],[20.8,42.7],[14,35.4],[30,52,44,38],[24,48,40],[36,50,44],
  [8,18,24],[12,24,30,36],[16,28,36,42],[18,34,42,48],[21,32,40,48,54],[23,36,44,52],[25,40,48,56,62],[28,46,54,60],[30,38,46,58,66],[32,48,56,64],[35,44,54,62,70],[37,50,58,66,72],[40,54,62,70,78],[42,58,66,72],[45,50,60,68,76],[47,58,66,74],[52,60,68,76],[54,64,74,84],[61,70,78,86],[68,72,80,90],[73,70,78]
];
const smCalPink: Col[] = [
  [133.6,137.5,137.2,136.9,125.8,113.1,101,75.5,75.2,74.9,61.9],[109.1,89.6,84.2,79.9,76.2,75.9,75.6,59.9,52.5,44.6],[180.8,81.6,81.3,81,70.4,70.1,69.8,62.4,62.1,61.8,48.5,36.6,22.7],[70,89.3],[68.6,80.6,76.2,75.9,75.6],[69,67.5,49.3],[54.6,58.7,47.1,42.7,35.8],[41.5,70.4,66.7],[29.7,57.3],[37.4,48.5,48.2,47.9,36.8,31],[49.5,68.9,48.5,39.8],[47.5,32.5,28.8,28.5,28.2,22.3],[20.8,41.2,28.1],[7,28.1,22.3,22,21.7,16.4],[40,16.4],[70.6,1.9],[32.6,16.4],[14.3,34],[9,-6.3,-6.6,-6.9,-7.2,-9.2],[15.2,-15.4,-15.7,-16],[32.8,-23.5],[70.3,-19.7,-42.5,-59.6],[5.3,-0.6],[48,-1.6],[12,12,20],[18,10,18],[24,14,24],[30,12,22],
  [3,8,14,20],[5,12,18,24,30],[7,14,20,26],[9,16,22,30],[11,10,18,26],[14,14,22,30],[16,18,26,34],[18,10,20,30],[22,14,24,34,40],[24,10,20,30,44],[27,18,28,36,48],[29,16,26,38],[34,24,34,44],[36,16,26,36,48],[41,12,22,32],[44,18,28,38,54],[46,8,18,28],[50,4,14,24],[53,6,16],[57,4,14],[60,2,8,16],[63,-2,6],[66,0,8,14],[69,-6,2,10]
];

// Fitted lines: x and y of each end, then confidence band
const fitX = [0, 400];
const fitDtRaw = [2.4, 41.5];
const fitDtCal = [2.5, -25];
const fitSmRaw = [35.7, -150];
const fitSmCal = [42.7, -150];
const bandX = [0, 50, 100, 200, 300, 400];
const bandDtRawHi = [3.9, 8.1, 13.2, 23.6, 35.0, 46.5];
const bandDtRawLo = [0.9, 5.5, 11.2, 20.0, 28.0, 36.5];
const bandDtCalHi = [4.0, 0.3, -3.5, -10.0, -15.5, -20];
const bandDtCalLo = [1.0, -1.9, -5.5, -14.0, -22.5, -30];
const bandSmRawHi = [39.2, 15.6, -7.3, -51.2, -96.8, -137];
const bandSmRawLo = [32.2, 10.2, -13.3, -61.2, -113.8, -163];
const bandSmCalHi = [46.2, 22.0, -2.4, -48.4, -96.5, -137];
const bandSmCalLo = [39.2, 15.0, -8.4, -58.4, -114.5, -163];

// Reference lines
const zeroLine = 0;
const dtBias = 4;
const dtLimits = [41.9, -33.9];
const smBias = -9.2;
const smLimits = [180, -198.7];

const panelData = [
  { cols: [dtRawCandles, dtRawOlive, dtRawGreen, dtRawCooking, dtRawPink], order: [0, 2, 4, 3, 1], fit: fitDtRaw, hi: bandDtRawHi, lo: bandDtRawLo, bias: dtBias, limits: dtLimits, limitColor: "#000000" },
  { cols: [dtCalCandles, dtCalOlive, dtCalGreen, dtCalCooking, dtCalPink], order: [2, 4, 3, 0, 1], fit: fitDtCal, hi: bandDtCalHi, lo: bandDtCalLo, bias: dtBias, limits: dtLimits, limitColor: "#000000" },
  { cols: [smRawCandles, smRawOlive, smRawGreen, smRawCooking, smRawPink], order: [0, 4, 2, 3, 1], fit: fitSmRaw, hi: bandSmRawHi, lo: bandSmRawLo, bias: smBias, limits: smLimits, limitColor: "#FFA500" },
  { cols: [smCalCandles, smCalOlive, smCalGreen, smCalCooking, smCalPink], order: [0, 4, 2, 3, 1], fit: fitSmCal, hi: bandSmCalHi, lo: bandSmCalLo, bias: smBias, limits: smLimits, limitColor: "#FFA500" },
];

const FONT = "'Liberation Sans', Arial, sans-serif";
const panelBoxes = [
  { left: 274, top: 126, width: 1893, height: 1535, stripTop: 29 },
  { left: 2199, top: 126, width: 1893, height: 1535, stripTop: 29 },
  { left: 274, top: 2010, width: 1893, height: 1537, stripTop: 1911 },
  { left: 2199, top: 2010, width: 1893, height: 1537, stripTop: 1911 },
];
const xRange = [-19.6, 420.1];
const yRangeTop = [-218.6, 219.9];
const yRangeBottom = [-218.9, 220.2];

function alpha(hex: string, a: number) {
  const n = parseInt(hex.slice(1), 16);
  return `rgba(${(n >> 16) & 255},${(n >> 8) & 255},${n & 255},${a})`;
}
const flat = (cols: Col[]) => cols.flatMap(([x, ...ys]) => ys.map((y) => [x, y]));

const titleRich = {
  t: { fontSize: 64, fontFamily: FONT, color: "#000", lineHeight: 100 },
  s: { fontSize: 45, fontFamily: FONT, color: "#000", verticalAlign: "bottom", lineHeight: 64 },
  u: { fontSize: 45, fontFamily: FONT, color: "#000", verticalAlign: "top", lineHeight: 56 },
};
function axisTitle(text: string, x: number, y: number, rotation = 0) {
  return { type: "text", x, y, rotation, z: 20, style: { text, rich: titleRich, align: "center", verticalAlign: "middle" } };
}

function buildOption() {
  const grid = panelBoxes.map((b) => ({ left: b.left, top: b.top, width: b.width, height: b.height, show: true, backgroundColor: "#fff", borderColor: "#333333", borderWidth: 4 }));
  const tickStyle = { color: "#333333", width: 5 };
  const xAxis = panelBoxes.map((_, i) => ({
    type: "value", gridIndex: i, min: xRange[0], max: xRange[1],
    axisLine: { show: false, onZero: false },
    axisTick: { show: true, length: 17, lineStyle: tickStyle, customValues: xTickValues },
    axisLabel: { show: true, customValues: xTickValues, color: "#4D4D4D", fontSize: 49, fontFamily: FONT, margin: 16, hideOverlap: false },
    splitLine: { show: true, lineStyle: { color: "#EBEBEB", width: 5 } },
  }));
  const yAxis = panelBoxes.map((_, i) => {
    const r = i < 2 ? yRangeTop : yRangeBottom;
    const isLeft = i % 2 === 0;
    return {
      type: "value", gridIndex: i, min: r[0], max: r[1],
      axisLine: { show: false, onZero: false },
      axisTick: { show: isLeft, length: 17, lineStyle: tickStyle, customValues: yTickValues },
      axisLabel: { show: isLeft, customValues: yTickValues, color: "#4D4D4D", fontSize: 49, fontFamily: FONT, margin: 15, hideOverlap: false },
      splitLine: { show: true, lineStyle: { color: "#EBEBEB", width: 5 } },
    };
  });

  const series: any[] = [];
  panelData.forEach((p, i) => {
    const axes = { xAxisIndex: i, yAxisIndex: i };
    series.push({
      type: "line", ...axes, z: 1, silent: true, showSymbol: false, data: [[0, 0]], lineStyle: { opacity: 0 },
      markLine: {
        silent: true, symbol: "none", label: { show: false }, animation: false, emphasis: { disabled: true },
        lineStyle: { color: "#EBEBEB", width: 2.6, type: "solid" },
        data: [...xMinorValues.map((v) => ({ xAxis: v })), ...yMinorValues.map((v) => ({ yAxis: v }))],
      },
    });
    p.order.forEach((k) => {
      const c = sourceColors[k];
      series.push({
        type: "scatter", ...axes, name: sourceNames[k], z: 2, silent: true, symbol: "circle", symbolSize: 20,
        itemStyle: { color: alpha(c, 0.45), borderColor: alpha(c, 0.45), borderWidth: 4.5, opacity: 1 },
        emphasis: { disabled: true }, data: flat(p.cols[k]),
      });
    });
    series.push({
      type: "custom", ...axes, z: 3, silent: true, clip: true,
      data: bandX.map((x, j) => [x, p.hi[j], p.lo[j]]), encode: { x: 0, y: [1, 2] },
      renderItem: (params: any, api: any) => {
        if (params.dataIndex !== 0) return null;
        const up = bandX.map((x, j) => api.coord([x, p.hi[j]]));
        const dn = bandX.map((x, j) => api.coord([x, p.lo[j]])).reverse();
        return { type: "polygon", shape: { points: [...up, ...dn] }, style: { fill: "rgba(153,153,153,0.4)" } };
      },
    });
    series.push({
      type: "line", ...axes, z: 4, silent: true, showSymbol: false, symbol: "none",
      data: fitX.map((x, j) => [x, p.fit[j]]), lineStyle: { color: "#000", width: 12, cap: "butt" },
    });
    series.push({
      type: "line", ...axes, z: 5, silent: true, showSymbol: false, data: [[0, 0]], lineStyle: { opacity: 0 },
      markLine: {
        silent: true, symbol: "none", label: { show: false }, animation: false, emphasis: { disabled: true },
        data: [
          { yAxis: zeroLine, lineStyle: { color: "#000", width: 5, type: [24.5, 24.5] } },
          ...p.limits.map((v) => ({ yAxis: v, lineStyle: { color: p.limitColor, width: 5, type: [5, 19.5] } })),
          { yAxis: p.bias, lineStyle: { color: "#FFA500", width: 5.5, type: "solid" } },
        ],
      },
    });
  });

  const graphic: any[] = [];
  panelBoxes.forEach((b, i) => {
    graphic.push({ type: "rect", z: 10, shape: { x: b.left, y: b.stripTop, width: b.width, height: b.top - b.stripTop }, style: { fill: "#D9D9D9", stroke: "#333333", lineWidth: 4 } });
    graphic.push({ type: "text", z: 11, x: b.left + b.width / 2, y: (b.stripTop + b.top) / 2, style: { text: stripNames[i % 2], font: `50px ${FONT}`, fill: "#1A1A1A", align: "center", verticalAlign: "middle" } });
  });
  graphic.push(axisTitle("{t|DustTrak PM}{s|2.5}{t| (µg/m}{u|3}{t|)}", 2181, 1800));
  graphic.push(axisTitle("{t|SMPS + APS PM}{s|2.5}{t| (µg/m}{u|3}{t|)}", 2183, 3687));
  graphic.push(axisTitle("{t|ARMIE PM}{s|2.5}{t| − DustTrak PM}{s|2.5}{t| (µg/m}{u|3}{t|)}", 64, 893, Math.PI / 2));
  graphic.push(axisTitle("{t|ARMIE PM}{s|2.5}{t| − SMPS + APS PM}{s|2.5}{t| (µg/m}{u|3}{t|)}", 64, 2780, Math.PI / 2));

  graphic.push({ type: "text", z: 11, x: 1010, y: 3954, style: { text: "source", font: `62px ${FONT}`, fill: "#000", align: "left", verticalAlign: "middle" } });
  const legendDotX = [1280, 1630, 2047, 2418, 2770];
  const legendTextX = [1362, 1714, 2129, 2498, 2853];
  sourceNames.forEach((name, k) => {
    const c = sourceColors[k];
    graphic.push({ type: "circle", z: 11, shape: { cx: legendDotX[k], cy: 3951, r: 10 }, style: { fill: alpha(c, 0.45), stroke: alpha(c, 0.45), lineWidth: 4.5 } });
    graphic.push({ type: "text", z: 11, x: legendTextX[k], y: 3951, style: { text: name, font: `50px ${FONT}`, fill: "#000", align: "left", verticalAlign: "middle", lineHeight: 54 } });
  });

  return { animation: false, backgroundColor: "#fff", grid, xAxis, yAxis, series, graphic };
}

export default function App() {
  const ref = useRef<HTMLDivElement>(null);
  useEffect(() => {
    const chart = echarts.init(ref.current!, undefined, { renderer: "svg" });
    chart.setOption(buildOption() as any);
    return () => chart.dispose();
  }, []);
  return <div ref={ref} style={{ position: "absolute", left: 0, top: 0, width: 4121, height: 4054 }} />;
}
